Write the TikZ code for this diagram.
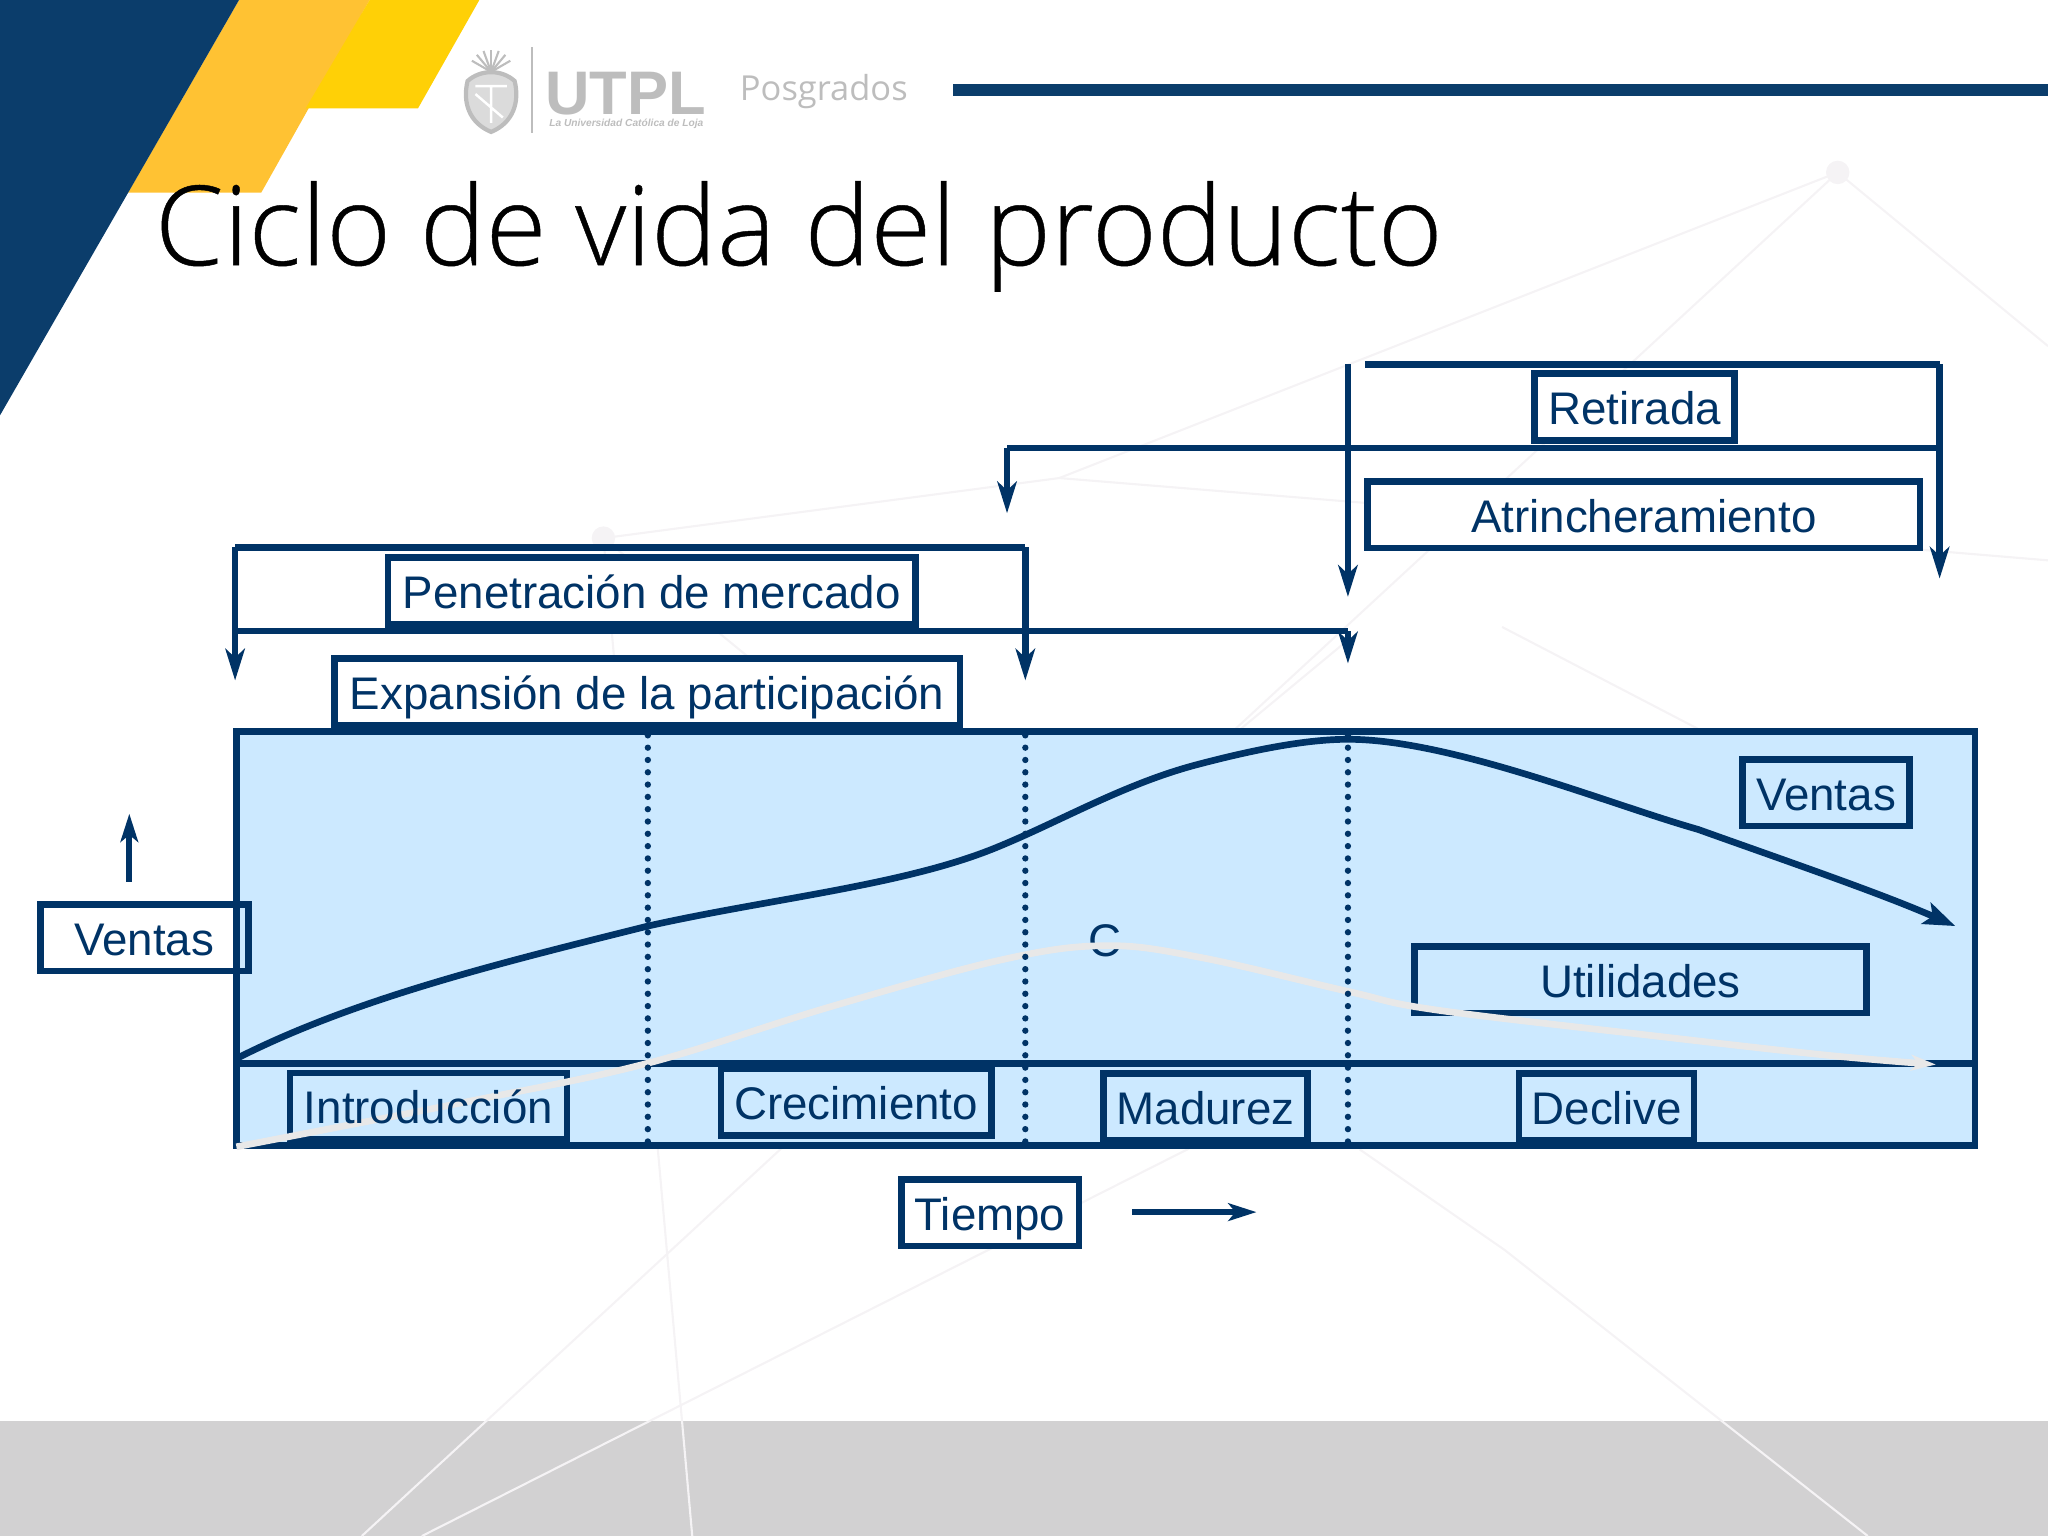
\documentclass[tikz,border=0pt]{standalone}
\usepackage{fontspec}
\setmainfont{Liberation Sans}
\newfontfamily\titlefont[FakeBold=0.4]{Open Sans Light}
\newfontfamily\posfont{Open Sans}
\usetikzlibrary{arrows.meta}
\definecolor{navy}{HTML}{003366}
\definecolor{slideblue}{HTML}{0B3D6B}
\definecolor{softyellow}{HTML}{FFC233}
\definecolor{strongyellow}{HTML}{FFD006}
\definecolor{panelblue}{HTML}{CCE9FF}
\definecolor{faintline}{HTML}{F5F3F5}
\definecolor{bandgrey}{HTML}{D2D1D2}
\definecolor{logogrey}{HTML}{BDBDBD}
\definecolor{profitgrey}{HTML}{E8E8E8}
\newcommand{\unitpx}{0.3715pt}
\tikzset{
  labelbox/.style={draw=navy, line width=1.9pt, inner sep=0pt, text=navy, text height=10pt, text depth=0pt,
    minimum height=51*\unitpx, font=\fontsize{13}{15}\selectfont},
  plaintext/.style={inner sep=0pt, text=navy, text height=10pt, text depth=0pt, font=\fontsize{13}{15}\selectfont},
  conn/.style={draw=navy, line width=1.9pt},
  connarrow/.style={conn, -{Stealth[length=9pt,width=5.5pt,inset=2.5pt]}},
  thinarrow/.style={conn, line width=1.6pt, -{Stealth[length=8pt,width=5pt,inset=2pt]}},
  phaseline/.style={draw=navy, line width=1.8pt, line cap=round, dash pattern=on 0pt off 3.5pt},
  faint/.style={draw=faintline, line width=0.6pt}
}
\begin{document}
\begin{tikzpicture}[x=0.3715pt, y=-0.3715pt]
  \useasboundingbox (0,0) rectangle (1568,1176);

  % background
  \fill[bandgrey] (0,1088) rectangle (1568,1176);
  \draw[faint] (1407,132) -- (277,1176);
  \draw[faint] (1407,132) -- (811,366);
  \draw[faint] (1407,132) -- (1568,265);
  \draw[faint] (462,412) -- (530,1176);
  \draw[faint] (462,412) -- (811,366) -- (1045,385);
  \draw[faint] (462,412) -- (640,558);
  \draw[faint] (1472,421) -- (1568,429);
  \draw[faint] (1032,490) -- (950,558);
  \draw[faint] (1150,480) -- (1300,558);
  \draw[faint] (1107,780) -- (323,1176);
  \draw[faint] (1041,880) -- (1152,957) -- (1430,1176);
  \fill[faintline] (1407,132) circle (9);
  \fill[faintline] (462,412) circle (9);

  % corner
  \fill[softyellow] (183,0) -- (283,0) -- (200,147.5) -- (98,147.5) -- cycle;
  \fill[strongyellow] (283,0) -- (367,0) -- (320,83) -- (234,83) -- cycle;
  \fill[slideblue] (0,0) -- (183,0) -- (0,318) -- cycle;
  \fill[slideblue] (730,64.5) rectangle (1568,73.5);

  % logo
  \foreach \a in {-60,-40,-20,0,20,40,60}
    \draw[logogrey, line width=0.6pt] (376,55) -- ++(\a-90:17);
  \draw[logogrey, fill=logogrey!55, line width=1.2pt] (358,62) .. controls (368,53) and (384,53) .. (394,62)
    .. controls (398,78) and (393,94) .. (376,101) .. controls (359,94) and (354,78) .. (358,62) -- cycle;
  \draw[white, line width=0.7pt] (364,66) -- (388,66) (376,66) -- (376,94) (364,72) -- (385,90);
  \draw[logogrey, line width=0.6pt] (407,36) -- (407,102);
  \node[anchor=base west, inner sep=0pt, text=logogrey, font=\fontsize{17.5}{20}\bfseries] (utpl) at (417,88) {UTPL};
  \node[anchor=base west, inner sep=0pt, text=logogrey, font=\fontsize{2.9}{4}\bfseries\itshape] (lema) at (420,97) {La Universidad Católica de Loja};
  \node[anchor=base west, inner sep=0pt, text=logogrey, font=\fontsize{9.8}{12}\posfont] (posgrados) at (566,77) {Posgrados};

  % title
  \node[anchor=base west, inner sep=0pt, font=\fontsize{31.5}{36}\titlefont] (titulo) at (118,203) {Ciclo de vida del producto};

  % top brackets
  \coordinate (retA) at (1045,279);
  \coordinate (retB) at (1485,279);
  \coordinate (retC) at (1485,443);
  \coordinate (retD) at (1032,279);
  \coordinate (retE) at (1032,457);
  \coordinate (atrA) at (771,343);
  \coordinate (atrB) at (1485,343);
  \coordinate (atrC) at (771,393);
  \draw[conn] (retA) -- (retB);
  \draw[connarrow] (retB) -- (retC);
  \draw[connarrow] (retD) -- (retE);
  \draw[conn] (atrA) -- (atrB);
  \draw[connarrow] (atrA) -- (atrC);
  \node[labelbox, fill=white, minimum width=153*\unitpx] (retirada) at (1251.5,311.5) {Retirada};
  \node[labelbox, fill=white, minimum width=423*\unitpx] (atrinch) at (1258.5,394) {Atrincheramiento};

  \coordinate (penA) at (180,419);
  \coordinate (penB) at (785,419);
  \coordinate (penC) at (785,521);
  \coordinate (penD) at (180,521);
  \coordinate (expA) at (180,483);
  \coordinate (expB) at (1032,483);
  \coordinate (expC) at (1032,508);
  \draw[conn] (penA) -- (penB);
  \draw[connarrow] (penB) -- (penC);
  \draw[connarrow] (penA) -- (penD);
  \draw[conn] (expA) -- (expB);
  \draw[connarrow] (expB) -- (expC);
  \node[labelbox, fill=white, minimum width=404*\unitpx] (penetra) at (499,452.5) {Penetración de mercado};
  \node[labelbox, fill=white, minimum width=479*\unitpx] (expansion) at (495.5,529.5) {Expansión de la participación};

  % panel
  \node[draw=navy, fill=panelblue, line width=1.9pt, inner sep=0pt, minimum width=1331*\unitpx, minimum height=317*\unitpx] (panel) at (846.5,718.5) {};
  \coordinate (panA) at (180,814);
  \coordinate (panB) at (1513,814);
  \draw[conn] (panA) -- (panB);

  \node[labelbox, minimum width=128*\unitpx] (ventasb) at (1398,607) {Ventas};
  \node[labelbox, minimum width=346*\unitpx] (utilidades) at (1256,750) {Utilidades};
  \node[labelbox, minimum width=212*\unitpx] (intro) at (328,847) {};
  \node[labelbox, minimum width=207*\unitpx] (crece) at (655.5,844) {Crecimiento};
  \node[labelbox, minimum width=156*\unitpx] (madurez) at (923,847.5) {Madurez};
  \node[labelbox, minimum width=134*\unitpx] (declive) at (1230,847.5) {Declive};
  \node[plaintext] (cletra) at (846,719) {C};

  % profit curve
  \draw[draw=profitgrey, line width=1.9pt, -{Stealth[length=7pt,width=4.5pt,inset=2pt]}] plot[smooth, tension=0.6] coordinates {(181,878) (360,843) (496,814) (635,771) (766,735) (846,724) (919,733) (1032,759) (1098,773) (1266,793) (1400,808) (1482,815)};
  \node[plaintext] (introtxt) at (intro) {Introducción};

  % phases
  \coordinate (faseA) at (496,563);
  \coordinate (faseB) at (496,874);
  \coordinate (faseC) at (785,563);
  \coordinate (faseD) at (785,874);
  \coordinate (faseE) at (1032,563);
  \coordinate (faseF) at (1032,874);
  \draw[phaseline] (faseA) -- (faseB);
  \draw[phaseline] (faseC) -- (faseD);
  \draw[phaseline] (faseE) -- (faseF);

  % sales curve
  \draw[draw=navy, line width=1.9pt, -{Stealth[length=9pt,width=6.5pt,inset=2pt]}] (180,811)
    .. controls (270,765) and (380,738) .. (496,709)
    .. controls (590,688) and (690,678) .. (760,650)
    .. controls (810,630) and (860,600) .. (918,585)
    .. controls (960,574) and (1000,566) .. (1032,566)
    .. controls (1110,566) and (1230,615) .. (1300,635)
    .. controls (1370,660) and (1440,684) .. (1497,709);

  % axis labels
  \node[labelbox, minimum width=159*\unitpx] (ventasa) at (110.5,718) {Ventas};
  \coordinate (ejeA) at (99,675);
  \coordinate (ejeB) at (99,623);
  \draw[thinarrow] (ejeA) -- (ejeB);
  \node[labelbox, fill=white, minimum width=136*\unitpx] (tiempo) at (758,928.5) {Tiempo};
  \coordinate (ejeC) at (867,928);
  \coordinate (ejeD) at (962,928);
  \draw[thinarrow] (ejeC) -- (ejeD);
\end{tikzpicture}
\end{document}
